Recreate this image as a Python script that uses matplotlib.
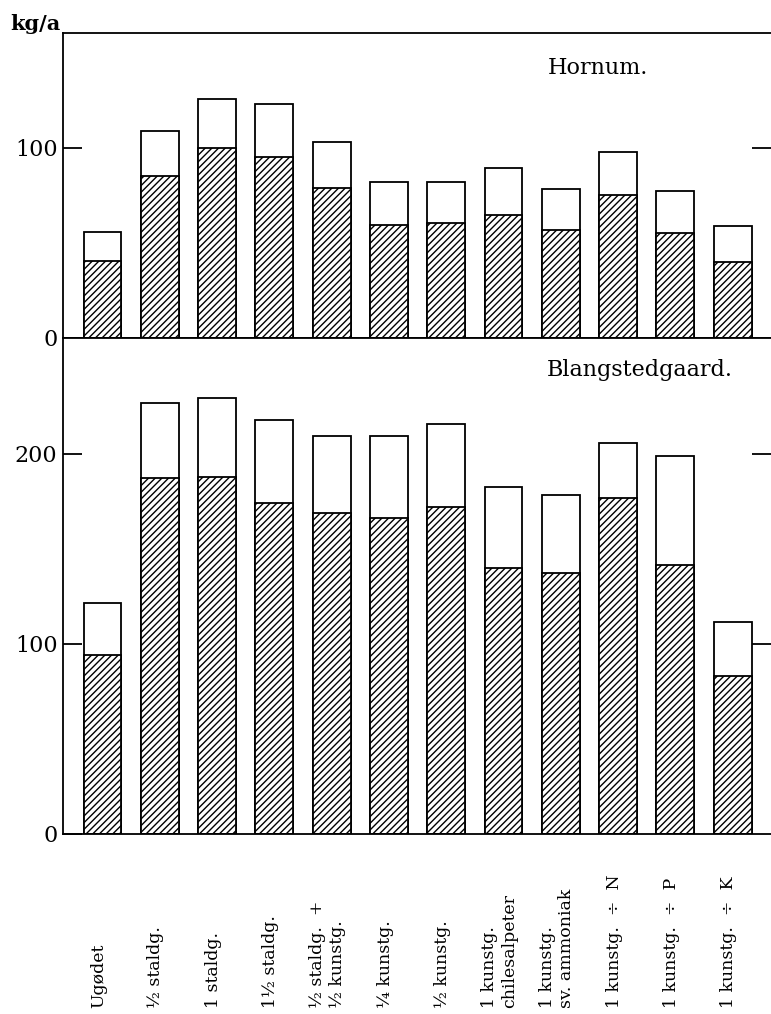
import numpy as np
import matplotlib.pyplot as plt

plt.rcParams['font.family'] = ['DejaVu Serif']
plt.rcParams['hatch.linewidth'] = 1.0

labels = ["Ugødet", "½ staldg.", "1 staldg.", "1½ staldg.",
          "½ staldg.  +\n½ kunstg.", "¼ kunstg.", "½ kunstg.",
          "1 kunstg.\nchilesalpeter", "1 kunstg.\nsv. ammoniak",
          "1 kunstg.  ÷  N", "1 kunstg.  ÷  P", "1 kunstg.  ÷  K"]

# Hornum: total and hatched part (kg/a)
hornum_total = [56, 109, 126, 123, 103, 82, 82, 89.5, 78.5, 98, 77.5, 59]
hornum_dark = [40.5, 85, 100, 95, 79, 59.5, 60.5, 64.5, 57, 75, 55.5, 40]

# Blangstedgaard
blang_total = [121.5, 227, 229.5, 218, 209.5, 209.5, 216, 182.5, 178.5, 206, 199, 111.5]
blang_dark = [94, 187.5, 188, 174, 169, 166.5, 172, 140, 137.5, 177, 141.5, 83]

x = np.arange(len(labels))
W, H = 771, 1014
fig = plt.figure(figsize=(W / 100, H / 100), dpi=100)

left = 63 / W
width = 1 - left
ax1 = fig.add_axes([left, 1 - 338 / H, width, 305 / H])
ax2 = fig.add_axes([left, 1 - 834 / H, width, 496 / H])


def draw(ax, total, dark, ymax, ticks, name, nx, ny):
    ax.bar(x, total, width=0.66, color='white', edgecolor='black', linewidth=1.3)
    ax.bar(x, dark, width=0.66, color='white', edgecolor='black', linewidth=1.3,
           hatch='/////')
    ax.set_xlim(-0.69, 11.67)
    ax.set_ylim(0, ymax)
    ax.set_xticks([])
    ax.set_yticks(ticks)
    ax.set_yticklabels([str(t) for t in ticks], fontsize=16)
    ax.tick_params(axis='y', direction='in', length=14, width=1.3, pad=4,
                   right=True)
    ax.spines['right'].set_visible(False)
    for s in ['left', 'top', 'bottom']:
        ax.spines[s].set_linewidth(1.3)
    ax.text(nx, ny, name, transform=ax.transAxes, fontsize=16,
            ha='center', va='center')


draw(ax1, hornum_total, hornum_dark, 160.5, [0, 100], "Hornum.", 0.756, 0.885)
draw(ax2, blang_total, blang_dark, 261, [0, 100, 200], "Blangstedgaard.", 0.815, 0.935)
# remove right-side tick at 0
ax1.yaxis.get_major_ticks()[0].tick2line.set_visible(False)
ax2.yaxis.get_major_ticks()[0].tick2line.set_visible(False)

fig.text(10 / W, 1 - 24 / H, "kg/a", fontsize=15, fontweight='bold',
         ha='left', va='center')

for xi, lab in zip(x, labels):
    xpix = 102.5 + 57.3 * xi - 4
    fig.text(xpix / W, 1 - 1008 / H, lab, rotation=90, fontsize=12.5,
             ha='center', va='bottom', multialignment='left')

fig.savefig("out.png", dpi=100)
